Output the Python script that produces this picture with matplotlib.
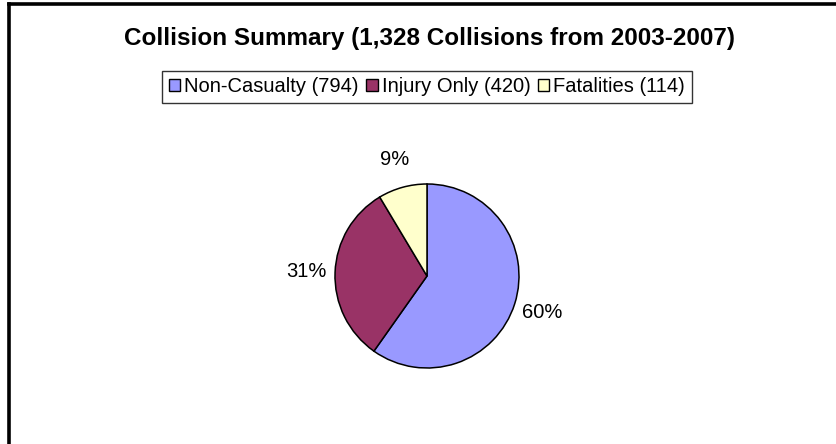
import matplotlib
matplotlib.use('Agg')
import matplotlib.pyplot as plt
from matplotlib.patches import Patch
from matplotlib.lines import Line2D
import numpy as np

plt.rcParams['font.family'] = ['Liberation Sans', 'DejaVu Sans']

# datos del grafico
categorias = ['Non-Casualty', 'Injury Only', 'Fatalities']
cantidades = [794, 420, 114]
etiquetas_pct = ['60%', '31%', '9%']
colores = ['#9999FF', '#993366', '#FFFFCC']
titulo = 'Collision Summary (1,328 Collisions from 2003-2007)'

W, H = 837, 444
fig = plt.figure(figsize=(W / 100, H / 100), dpi=100)
fig.patch.set_facecolor('white')

# marco exterior (solo se ven el borde izquierdo y el superior)
fig.add_artist(Line2D([9 / W, 9 / W], [-0.1, 1 - 4.5 / H], color='black',
                      linewidth=2.6, solid_capstyle='projecting',
                      transform=fig.transFigure))
fig.add_artist(Line2D([9 / W, 1.1], [1 - 4.5 / H, 1 - 4.5 / H], color='black',
                      linewidth=2.6, solid_capstyle='projecting',
                      transform=fig.transFigure))

fig.text(430 / W, 1 - 38 / H, titulo, ha='center', va='center',
         fontsize=17.5, fontweight='bold')

# ejes de la torta
cx, cy, r = 427, 276, 92
lim = 1.5
half = r * lim
ax = fig.add_axes([(cx - half) / W, 1 - (cy + half) / H, 2 * half / W, 2 * half / H])
wedges, _ = ax.pie(cantidades, colors=colores, startangle=90, counterclock=False,
                   wedgeprops=dict(edgecolor='black', linewidth=1.1))
ax.set_xlim(-lim, lim)
ax.set_ylim(-lim, lim)
ax.set_aspect('equal')

# etiquetas de porcentaje fuera de cada porcion
for w, txt in zip(wedges, etiquetas_pct):
    ang = np.deg2rad((w.theta1 + w.theta2) / 2)
    ax.text(1.31 * np.cos(ang), 1.31 * np.sin(ang), txt, ha='center', va='center',
            fontsize=14.5)

handles = [Patch(facecolor=c, edgecolor='black', linewidth=1.0) for c in colores]
nombres = [f'{n} ({v})' for n, v in zip(categorias, cantidades)]
leg = fig.legend(handles, nombres, loc='center', bbox_to_anchor=(427 / W, 1 - 87 / H),
                 ncol=3, fontsize=14.5, frameon=True, fancybox=False,
                 handlelength=0.55, handleheight=0.55, handletextpad=0.2,
                 columnspacing=0.4, borderpad=0.32, borderaxespad=0)
leg.get_frame().set_edgecolor('black')
leg.get_frame().set_linewidth(1.0)

fig.savefig('out.png', dpi=100)
